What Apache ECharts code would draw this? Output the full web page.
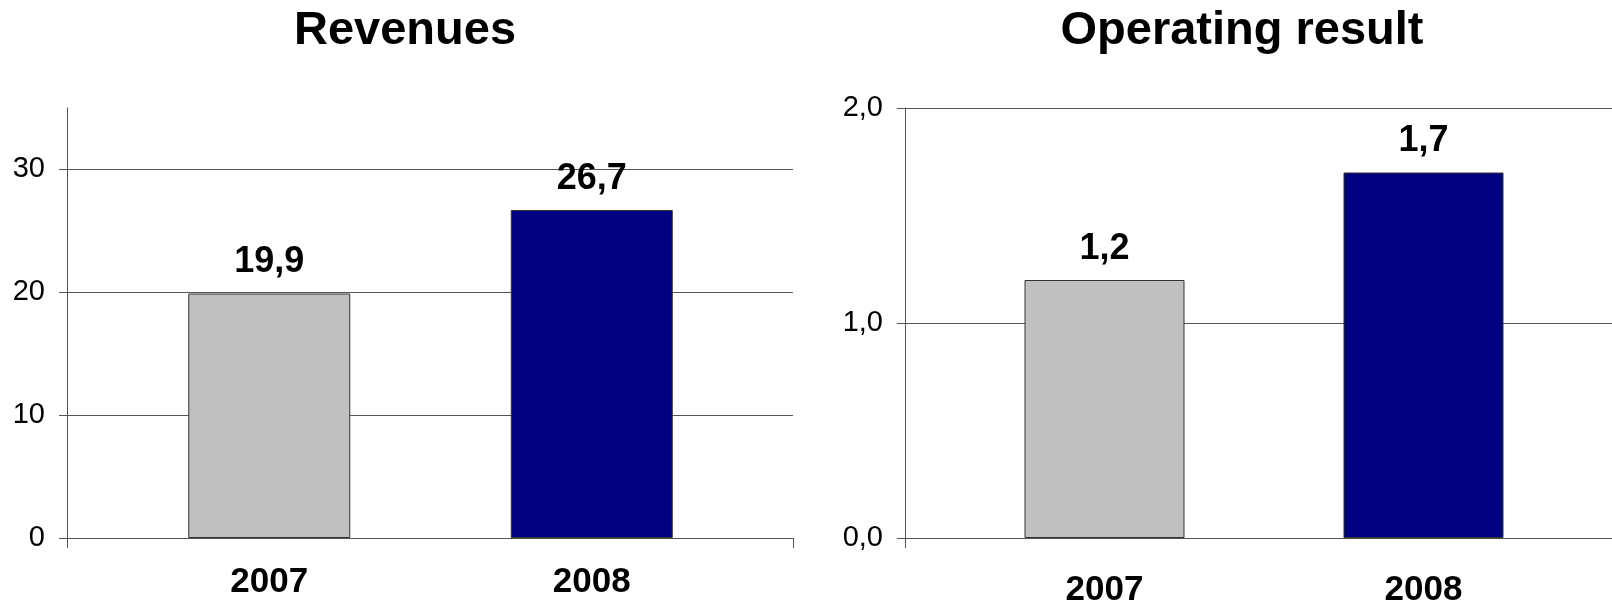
<!DOCTYPE html>
<html>
<head>
<meta charset="utf-8">
<script src="https://cdn.jsdelivr.net/npm/echarts@6/dist/echarts.min.js"></script>
<style>
  html, body { margin: 0; padding: 0; background: #fff; }
  #chart { width: 1612px; height: 601px; }
</style>
</head>
<body>
<div id="chart"></div>
<script>
// Fiscal years shown on both panels
const categories = ['2007', '2008'];
// Revenues per year
const revenues = [19.9, 26.7];
// Operating result per year
const operatingResult = [1.2, 1.7];
// Value-axis ticks
const revenueTicks = [0, 10, 20, 30];
const resultTicks = [0, 1, 2];
// Bar fill per year
const yearColors = ['#C0C0C0', '#000080'];

const FONT = '"Liberation Sans", Arial, sans-serif';
const AXIS_COLOR = '#555';
const fmtComma = v => Number(v).toFixed(1).replace('.', ',');

// Each panel uses a "frame" grid (axes, gridlines) and a "bars" grid sharing the same y-scale.
const panels = [
  {
    title: 'Revenues', titleX: 400,
    frame: { left: 67, top: 108, width: 726, height: 430 },
    bars: { left: 108, top: 108, width: 645, height: 430 },
    barWidth: 162, max: 35, interval: 10, ticks: revenueTicks,
    fmt: v => String(v), data: revenues, catMargin: 27
  },
  {
    title: 'Operating result', titleX: 1237,
    frame: { left: 905, top: 108, width: 718, height: 430 },
    bars: { left: 945, top: 108, width: 638, height: 430 },
    barWidth: 160, max: 2, interval: 1, ticks: resultTicks,
    fmt: v => fmtComma(v), data: operatingResult, catMargin: 35
  }
];

const option = {
  backgroundColor: '#ffffff',
  animation: false,
  title: [],
  grid: [],
  xAxis: [],
  yAxis: [],
  series: []
};

panels.forEach((p) => {
  option.title.push({
    text: p.title, left: p.titleX, top: 3, textAlign: 'center',
    textStyle: { fontFamily: FONT, fontSize: 47, fontWeight: 'bold', color: '#000' }
  });

  // grids keep their exact rectangles even when labels run past the canvas
  const gridBase = { containLabel: false, outerBoundsMode: 'none' };
  const gFrame = option.grid.length;
  option.grid.push(Object.assign({}, gridBase, p.frame));
  const gBars = option.grid.length;
  option.grid.push(Object.assign({}, gridBase, p.bars));

  // frame axes: axis lines, ticks, gridlines and value labels
  option.xAxis.push({
    type: 'category', gridIndex: gFrame, data: [''], boundaryGap: true,
    axisLine: { show: true, lineStyle: { color: AXIS_COLOR, width: 1 } },
    axisTick: { show: true, length: 10, lineStyle: { color: AXIS_COLOR } },
    axisLabel: { show: false }, splitLine: { show: false }
  });
  option.yAxis.push({
    type: 'value', gridIndex: gFrame, min: 0, max: p.max, interval: p.interval,
    axisLine: { show: true, lineStyle: { color: AXIS_COLOR, width: 1 } },
    axisTick: { show: true, length: 8, customValues: p.ticks, lineStyle: { color: AXIS_COLOR } },
    axisLabel: {
      show: true, customValues: p.ticks, margin: 22,
      fontFamily: FONT, fontSize: 29, color: '#000', formatter: p.fmt
    },
    splitLine: { show: true, lineStyle: { color: AXIS_COLOR, width: 1 } }
  });

  // bar axes: category labels under each bar
  option.xAxis.push({
    type: 'category', gridIndex: gBars, data: categories,
    axisLine: { show: false }, axisTick: { show: false }, splitLine: { show: false },
    axisLabel: { margin: p.catMargin, fontFamily: FONT, fontSize: 35, fontWeight: 'bold', color: '#000' }
  });
  option.yAxis.push({
    type: 'value', gridIndex: gBars, min: 0, max: p.max, interval: p.interval, show: false
  });

  option.series.push({
    type: 'bar', xAxisIndex: option.xAxis.length - 1, yAxisIndex: option.yAxis.length - 1,
    barWidth: p.barWidth, z: 3,
    data: p.data.map((v, k) => ({ value: v, itemStyle: { color: yearColors[k] } })),
    itemStyle: { borderColor: '#333', borderWidth: 1 },
    label: {
      show: true, position: 'top', distance: 13, formatter: d => fmtComma(d.value),
      fontFamily: FONT, fontSize: 36, fontWeight: 'bold', color: '#000'
    }
  });
});

const chart = echarts.init(document.getElementById('chart'), null, { renderer: 'canvas' });
chart.setOption(option);
</script>
</body>
</html>
